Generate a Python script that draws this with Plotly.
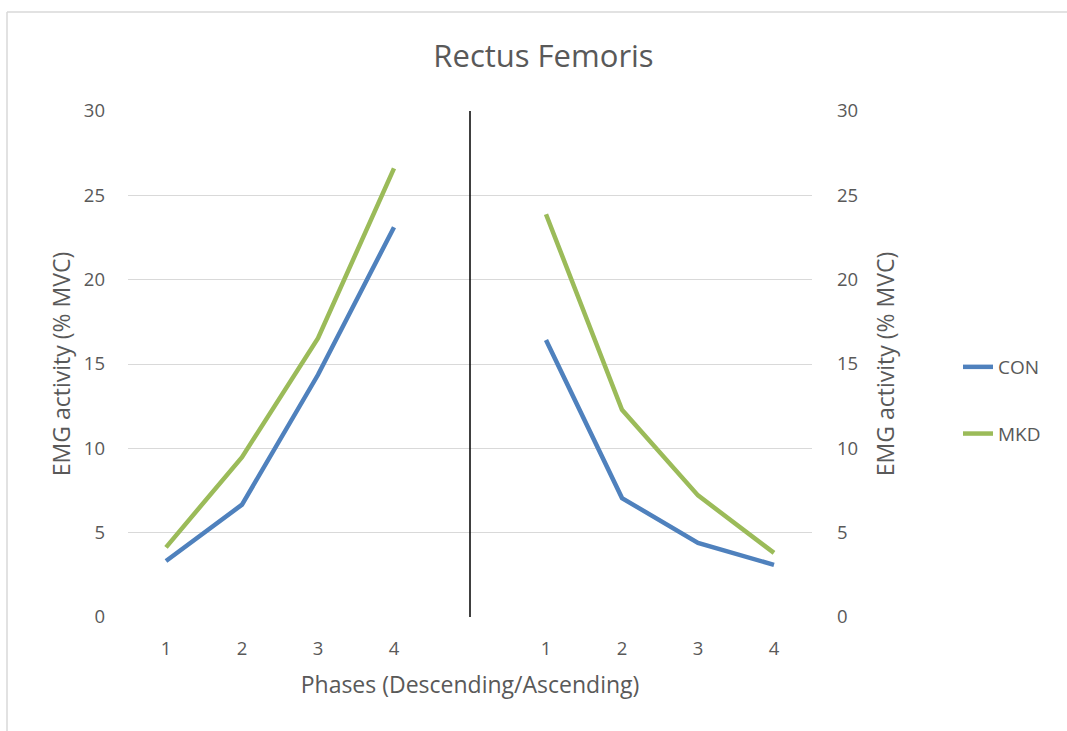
import plotly.graph_objects as go

# Data
tick_labels = ["1", "2", "3", "4", "", "1", "2", "3", "4"]
con_values = [3.32, 6.66, 14.36, 23.11, None, 16.42, 7.05, 4.39, 3.09]
mkd_values = [4.13, 9.48, 16.53, 26.6, None, 23.88, 12.29, 7.21, 3.80]
series_names = ["CON", "MKD"]
divider_position = 4

x_pos = list(range(len(tick_labels)))

FONT = "'Open Sans', Lato, sans-serif"
GRAY = "#595959"

fig = go.Figure()
fig.add_trace(go.Scatter(x=x_pos, y=con_values, name=series_names[0], mode="lines",
                         line=dict(color="#4F81BD", width=4.5), connectgaps=False,
                         legendgroup="a"))
fig.add_trace(go.Scatter(x=x_pos, y=mkd_values, name=series_names[1], mode="lines",
                         line=dict(color="#9BBB59", width=4.5), connectgaps=False,
                         legendgroup="b"))
# invisible trace to activate secondary axis
fig.add_trace(go.Scatter(x=x_pos, y=[None]*len(x_pos), yaxis="y2", showlegend=False,
                         hoverinfo="skip"))

fig.add_shape(type="line", xref="x", yref="y", x0=divider_position, x1=divider_position,
              y0=0, y1=30, line=dict(color="black", width=1.5))

# chart border (partial, like the source image)
fig.add_shape(type="line", xref="paper", yref="paper", x0=-0.1769, x1=-0.1769,
              y0=-0.25, y1=1.1957, line=dict(color="#D9D9D9", width=1.5))
fig.add_shape(type="line", xref="paper", yref="paper", x0=-0.1769, x1=1.4,
              y0=1.1957, y1=1.1957, line=dict(color="#D9D9D9", width=1.5))

tick_font = dict(family=FONT, size=18.5, color=GRAY)
title_font = dict(family=FONT, size=23, color=GRAY)
yvals = [0, 5, 10, 15, 20, 25, 30]

fig.update_layout(
    width=1067, height=731,
    margin=dict(l=128, r=255, t=111, b=114),
    paper_bgcolor="white", plot_bgcolor="white",
    title=dict(text="Rectus Femoris", x=543.5 / 1067, xanchor="center",
               y=1 - 56 / 731, yanchor="middle",
               font=dict(family=FONT, size=31, color=GRAY)),
    xaxis=dict(range=[-0.5, 8.5], tickvals=x_pos, ticktext=tick_labels,
               showgrid=False, zeroline=False, showline=False, ticks="",
               tickfont=tick_font, ticklabelstandoff=18,
               title=dict(text="Phases (Descending/Ascending)", standoff=18,
                          font=title_font)),
    yaxis=dict(range=[0, 30], tickvals=yvals, showline=False, zeroline=False, ticks="",
               tickfont=tick_font, showgrid=True, gridcolor="#D9D9D9", gridwidth=1.2,
               side="left", ticklabelstandoff=22,
               title=dict(text="EMG activity (% MVC)", standoff=6, font=title_font)),
    yaxis2=dict(range=[0, 30], tickvals=yvals, showline=False, zeroline=False, ticks="",
                tickfont=tick_font, overlaying="y", side="right", showgrid=False,
                ticklabelstandoff=24,
                title=dict(text="EMG activity (% MVC)", standoff=20, font=title_font)),
    legend=dict(x=(958 - 128) / 684, y=(617 - 348) / 506,
                xanchor="left", yanchor="top", tracegroupgap=39,
                font=dict(family=FONT, size=19, color=GRAY),
                bgcolor="rgba(0,0,0,0)"),
    showlegend=True,
)

fig.write_html("out.html")
